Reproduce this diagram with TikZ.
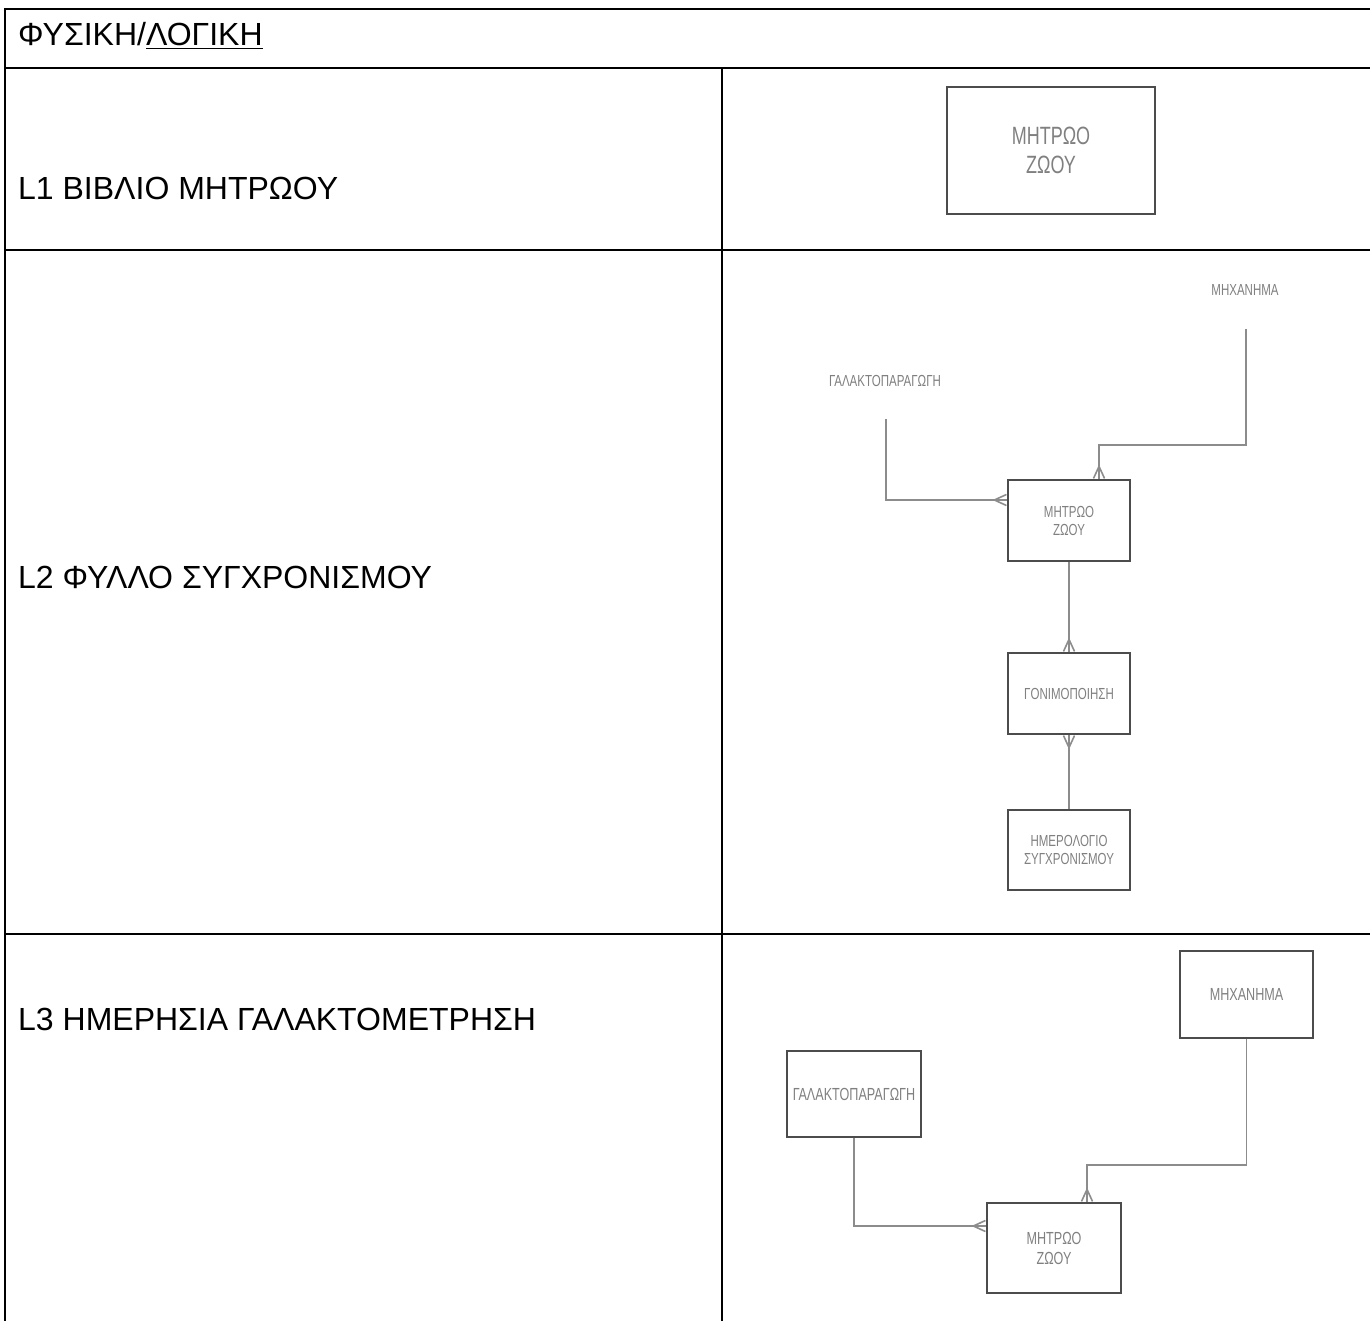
\documentclass[tikz,border=0pt]{standalone}
\usepackage{fontspec}
\setmainfont{Liberation Sans}
\newfontfamily\cadfont[FakeStretch=0.72]{Liberation Sans}
\usetikzlibrary{arrows.meta}
\tikzset{
	grid/.style={line width=2pt,line join=miter},
	row/.style={anchor=base west,inner sep=0pt,font=\fontsize{32}{38}\selectfont},
	box/.style={draw=black!70,line width=1.6pt,inner sep=0pt,align=center,text=black!50},
	tag/.style={inner sep=0pt,text=black!50},
	small/.style={font=\cadfont\fontsize{16}{18}\selectfont},
	edge/.style={draw=black!45,line width=1.6pt,-{Straight Barb[reversed,length=12pt,width=11pt]},postaction={draw,-}}
}
\begin{document}
\begin{tikzpicture}[x=1pt,y=-1pt]
	\useasboundingbox (0,0) rectangle (1370,1321);
	
	% table
	\draw[grid] (5,1321) -- (5,9) -- (1370,9);
	\draw[grid] (5,68) -- (1370,68);
	\draw[grid] (5,250) -- (1370,250);
	\draw[grid] (5,934) -- (1370,934);
	\draw[grid] (722,68) -- (722,1321);
	
	\node[row] (t0) at (18, 46) {ΦΥΣΙΚΗ/\underline{ΛΟΓΙΚΗ}};
	\node[row] (t1) at (18, 200) {L1 ΒΙΒΛΙΟ ΜΗΤΡΩΟΥ};
	\node[row] (t2) at (18, 588) {L2 ΦΥΛΛΟ ΣΥΓΧΡΟΝΙΣΜΟΥ};
	\node[row] (t3) at (18, 1030) {L3 ΗΜΕΡΗΣΙΑ ΓΑΛΑΚΤΟΜΕΤΡΗΣΗ};
	
	% L1
	\node[box,minimum width=208,minimum height=127,font=\cadfont\fontsize{25}{29}\selectfont] (z1) at (1051, 150.5) {ΜΗΤΡΩΟ\\ΖΩΟΥ};
	
	% L2
	\node[tag,small] (m2) at (1245, 290) {ΜΗΧΑΝΗΜΑ};
	\node[tag,small] (g2) at (885, 381) {ΓΑΛΑΚΤΟΠΑΡΑΓΩΓΗ};
	\node[box,small,minimum width=122,minimum height=81] (z2) at (1069, 520.5) {ΜΗΤΡΩΟ\\ΖΩΟΥ};
	\node[box,small,minimum width=122,minimum height=81] (f2) at (1069, 693.5) {ΓΟΝΙΜΟΠΟΙΗΣΗ};
	\node[box,small,minimum width=122,minimum height=80] (h2) at (1069, 850) {ΗΜΕΡΟΛΟΓΙΟ\\ΣΥΓΧΡΟΝΙΣΜΟΥ};
	
	\coordinate (m2a) at (1246, 329);
	\coordinate (m2b) at (1099, 445);
	\coordinate (g2a) at (886, 419);
	\coordinate (g2b) at (886, 500);
	
	\draw[edge] (m2a) |- (m2b) -- (m2b |- z2.north);
	\draw[edge] (g2a) |- (g2b -| z2.west);
	\draw[edge] (z2) -- (f2);
	\draw[edge] (h2) -- (f2);
	
	% L3
	\node[box,minimum width=133,minimum height=87,font=\cadfont\fontsize{17.5}{20}\selectfont] (m3) at (1246.5, 994.5) {ΜΗΧΑΝΗΜΑ};
	\node[box,minimum width=134,minimum height=86,font=\cadfont\fontsize{17.5}{20}\selectfont] (g3) at (854, 1094) {ΓΑΛΑΚΤΟΠΑΡΑΓΩΓΗ};
	\node[box,minimum width=134,minimum height=90,font=\cadfont\fontsize{17.5}{20}\selectfont] (z3) at (1054, 1248) {ΜΗΤΡΩΟ\\ΖΩΟΥ};
	
	\coordinate (m3b) at (1087, 1165);
	\coordinate (g3b) at (853, 1226);
	
	\draw[edge] (m3) |- (m3b) -- (m3b |- z3.north);
	\draw[edge] (g3) |- (g3b -| z3.west);
\end{tikzpicture}
\end{document}
